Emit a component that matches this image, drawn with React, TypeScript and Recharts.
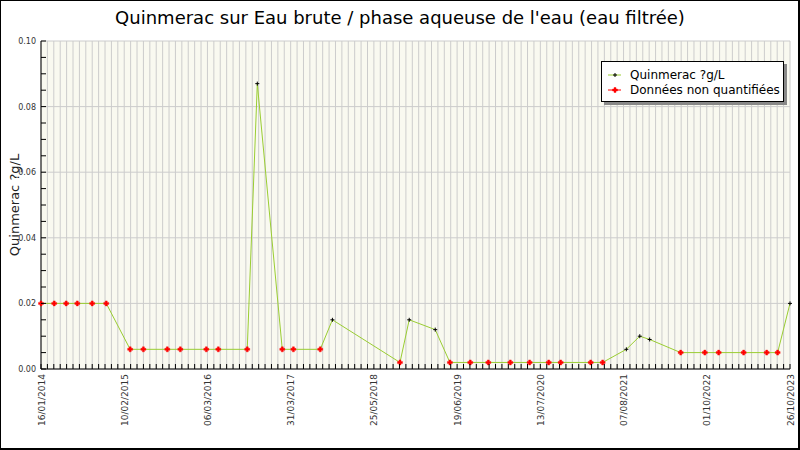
import { LineChart, Line, XAxis, YAxis, CartesianGrid, Legend } from "recharts"

const FONT = "'DejaVu Sans', sans-serif"

// sampling dates and measured values (µg/L), quantified = 1, non quantified = 0
const sampleDates = [
  "2014-01-16", "2014-03-20", "2014-05-16", "2014-07-08", "2014-09-17", "2014-11-23",
  "2015-03-17", "2015-05-19", "2015-09-10", "2015-11-11", "2016-03-14", "2016-05-10",
  "2016-09-25", "2016-11-12", "2017-03-11", "2017-05-03", "2017-09-08", "2017-11-05",
  "2018-09-23", "2018-11-06", "2019-03-10", "2019-05-19", "2019-08-24", "2019-11-18",
  "2020-03-02", "2020-06-02", "2020-09-01", "2020-10-28", "2021-03-20", "2021-05-16",
  "2021-09-06", "2021-11-09", "2021-12-26", "2022-05-23", "2022-09-15", "2022-11-20",
  "2023-03-19", "2023-07-07", "2023-08-28", "2023-10-26",
]
const values = [
  0.02, 0.02, 0.02, 0.02, 0.02, 0.02,
  0.006, 0.006, 0.006, 0.006, 0.006, 0.006,
  0.006, 0.087, 0.006, 0.006, 0.006, 0.015,
  0.002, 0.015, 0.012, 0.002, 0.002, 0.002,
  0.002, 0.002, 0.002, 0.002, 0.002, 0.002,
  0.006, 0.01, 0.009, 0.005, 0.005, 0.005,
  0.005, 0.005, 0.005, 0.02,
]
const quantified = [
  0, 0, 0, 0, 0, 0,
  0, 0, 0, 0, 0, 0,
  0, 1, 0, 0, 0, 1,
  0, 1, 1, 0, 0, 0,
  0, 0, 0, 0, 0, 0,
  1, 1, 1, 0, 0, 0,
  0, 0, 0, 1,
]

const xLabels = [
  "16/01/2014", "10/02/2015", "06/03/2016", "31/03/2017", "25/05/2018",
  "19/06/2019", "13/07/2020", "07/08/2021", "01/10/2022", "26/10/2023",
]
const yLabels = ["0.00", "0.02", "0.04", "0.06", "0.08", "0.10"]
const legendLabels = ["Quinmerac ?g/L", "Données non quantifiées"]

const title = "Quinmerac sur Eau brute / phase aqueuse de l'eau (eau filtrée)"
const yTitle = "Quinmerac ?g/L"

const DAY = 86400000
const toTime = (s: string) => {
  const [y, m, d] = s.split("-").map(Number)
  return Date.UTC(y, m - 1, d)
}
const t0 = toTime(sampleDates[0])
const span = (toTime(sampleDates[sampleDates.length - 1]) - t0) / DAY

const MINOR_PER_LABEL = 13
const minorCount = (xLabels.length - 1) * MINOR_PER_LABEL
const xTicks = Array.from({ length: minorCount + 1 }, (_, i) => (i * span) / minorCount)
const yTicks = Array.from({ length: 21 }, (_, i) => i * 0.005)
const yGrid = yLabels.map(Number)

const data = sampleDates.map((d, i) => ({
  day: (toTime(d) - t0) / DAY,
  value: values[i],
  q: quantified[i],
}))

function XTick(props: any) {
  const { x, y, index } = props
  const label = index % MINOR_PER_LABEL === 0 ? xLabels[index / MINOR_PER_LABEL] : null
  return (
    <g>
      <line x1={x} y1={y} x2={x} y2={y - 5} stroke="#000" />
      {label && (
        <text
          transform={`translate(${x + 3.5},${y + 5}) rotate(-90)`}
          textAnchor="end"
          fontSize={9}
          fontFamily={FONT}
          fill="#333"
        >
          {label}
        </text>
      )}
    </g>
  )
}

function YTick(props: any) {
  const { x, y, payload } = props
  const v = payload.value
  const idx = yGrid.findIndex((g) => Math.abs(g - v) < 1e-9)
  return (
    <g>
      <line x1={x} y1={y} x2={x + 5} y2={y} stroke="#000" />
      {idx >= 0 && (
        <text x={x - 5} y={y + 3} textAnchor="end" fontSize={8} fontFamily={FONT} fill="#333">
          {yLabels[idx]}
        </text>
      )}
    </g>
  )
}

function Marker({ cx, cy, q }: { cx: number; cy: number; q: number }) {
  if (q) {
    return (
      <path d={`M${cx - 2},${cy}H${cx + 2}M${cx},${cy - 2}V${cy + 2}`} stroke="#000" strokeWidth={1} />
    )
  }
  return (
    <path
      d={`M${cx - 1},${cy - 2.5}h2v1.5h1.5v2h-1.5v1.5h-2v-1.5h-1.5v-2h1.5z`}
      fill="#ff0000"
      stroke="#ff0000"
      strokeWidth={0.4}
    />
  )
}

function Dot(props: any) {
  const { cx, cy, payload, index } = props
  return <Marker key={index} cx={cx} cy={cy} q={payload.q} />
}

function LegendBox() {
  return (
    <div
      style={{
        width: 181,
        height: 39,
        background: "#fff",
        border: "1px solid #000",
        boxShadow: "3px 3px 0 #888",
        fontFamily: FONT,
        fontSize: 12,
        color: "#000",
        position: "relative",
      }}
    >
      {legendLabels.map((label, i) => (
        <div
          key={label}
          style={{ position: "absolute", left: 6, top: 5 + i * 15, height: 15, display: "flex", alignItems: "center" }}
        >
          <svg width={14} height={10} style={{ marginRight: 8 }}>
            <line x1={0} y1={5} x2={13} y2={5} stroke={i === 0 ? "#9acd32" : "#ff0000"} />
            <Marker cx={7} cy={5} q={i === 0 ? 1 : 0} />
          </svg>
          <span>{label}</span>
        </div>
      ))}
    </div>
  )
}

export default function App() {
  return (
    <div style={{ position: "absolute", left: 0, top: 0, width: 800, height: 450, background: "#fff" }}>
      <div
        style={{
          position: "absolute",
          left: 0,
          top: 7,
          width: 800,
          textAlign: "center",
          fontFamily: FONT,
          fontSize: 18,
          color: "#000",
        }}
      >
        {title}
      </div>
      <LineChart width={800} height={450} data={data} margin={{ top: 41, right: 10, bottom: 0, left: 0 }}>
        <CartesianGrid stroke="#cccccc" fill="#f9f9f0" fillOpacity={1} horizontalValues={yGrid} />
        <XAxis
          dataKey="day"
          type="number"
          domain={[0, span]}
          ticks={xTicks}
          interval={0}
          height={81}
          tickSize={0}
          tickMargin={0}
          tick={<XTick />}
          axisLine={{ stroke: "#000" }}
        />
        <YAxis
          type="number"
          domain={[0, 0.1]}
          ticks={yTicks}
          interval={0}
          width={41}
          tickSize={0}
          tickMargin={0}
          tick={<YTick />}
          axisLine={{ stroke: "#000" }}
          label={{
            content: (p: any) => {
              const vb = p.viewBox || { x: 0, y: 41, width: 41, height: 328 }
              const cy = vb.y + vb.height / 2
              return (
                <text
                  x={14}
                  y={cy}
                  transform={`rotate(-90 14 ${cy})`}
                  textAnchor="middle"
                  dominantBaseline="central"
                  fontSize={13}
                  fontFamily={FONT}
                  fill="#222"
                >
                  {yTitle}
                </text>
              )
            },
          }}
        />
        <Legend
          layout="vertical"
          align="center"
          verticalAlign="middle"
          wrapperStyle={{ left: 601, top: 61, width: "auto" }}
          content={() => <LegendBox />}
        />
        <Line
          dataKey="value"
          type="linear"
          stroke="#9acd32"
          strokeWidth={1}
          dot={Dot}
          activeDot={false}
          isAnimationActive={false}
        />
      </LineChart>
      <div
        style={{
          position: "absolute",
          left: 0,
          top: 0,
          width: 800,
          height: 450,
          boxSizing: "border-box",
          borderTop: "1px solid #000",
          borderLeft: "1px solid #000",
          borderRight: "2px solid #000",
          borderBottom: "2px solid #000",
          pointerEvents: "none",
        }}
      />
    </div>
  )
}
